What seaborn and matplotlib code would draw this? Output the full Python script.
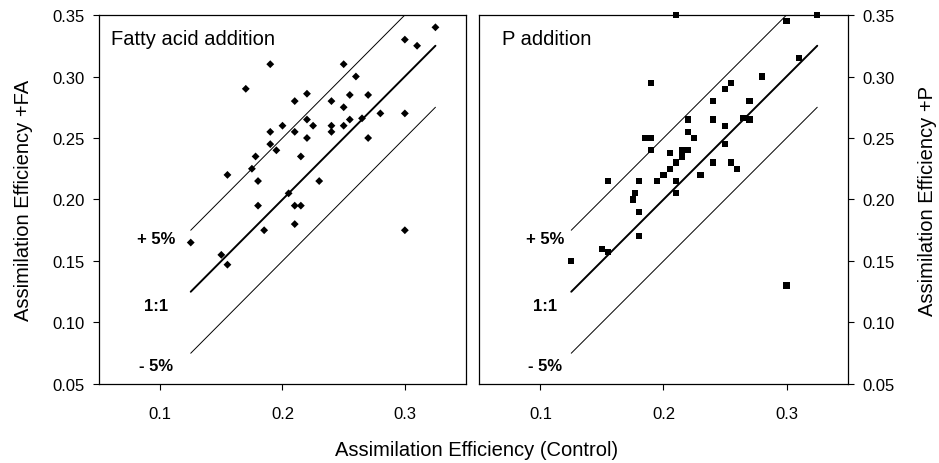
import seaborn as sns
import pandas as pd
import matplotlib.pyplot as plt

sns.set_style("ticks")
plt.rcParams['font.family'] = ['Liberation Sans', 'DejaVu Sans']
plt.rcParams['text.color'] = 'black'
plt.rcParams['xtick.color'] = 'black'
plt.rcParams['ytick.color'] = 'black'

# fatty acid addition (diamonds)
fa_control = [0.325, 0.30, 0.31, 0.19, 0.25, 0.17, 0.26, 0.21, 0.22, 0.24,
              0.255, 0.27, 0.25, 0.28, 0.30, 0.265, 0.255, 0.20, 0.22, 0.225,
              0.24, 0.25, 0.24, 0.19, 0.21, 0.22, 0.27, 0.19, 0.195, 0.178,
              0.215, 0.155, 0.175, 0.18, 0.23, 0.205, 0.18, 0.21, 0.215, 0.185,
              0.21, 0.30, 0.125, 0.15, 0.155]
fa_treat = [0.34, 0.33, 0.325, 0.31, 0.31, 0.29, 0.30, 0.28, 0.286, 0.28,
            0.285, 0.285, 0.275, 0.27, 0.27, 0.266, 0.265, 0.26, 0.265, 0.26,
            0.26, 0.26, 0.255, 0.255, 0.255, 0.25, 0.25, 0.245, 0.24, 0.235,
            0.235, 0.22, 0.225, 0.215, 0.215, 0.205, 0.195, 0.195, 0.195, 0.175,
            0.18, 0.175, 0.165, 0.155, 0.147]

# P addition (squares)
p_control = [0.21, 0.325, 0.30, 0.31, 0.19, 0.28, 0.25, 0.255, 0.24, 0.27,
             0.22, 0.24, 0.265, 0.27, 0.25, 0.22, 0.225, 0.185, 0.19, 0.25,
             0.19, 0.205, 0.215, 0.22, 0.215, 0.21, 0.24, 0.255, 0.205, 0.26,
             0.20, 0.23, 0.155, 0.18, 0.195, 0.21, 0.21, 0.177, 0.175, 0.18,
             0.18, 0.15, 0.155, 0.125, 0.30]
p_treat = [0.35, 0.35, 0.345, 0.315, 0.295, 0.30, 0.29, 0.295, 0.28, 0.28,
           0.265, 0.265, 0.266, 0.265, 0.26, 0.255, 0.25, 0.25, 0.25, 0.245,
           0.24, 0.238, 0.24, 0.24, 0.235, 0.23, 0.23, 0.23, 0.225, 0.225,
           0.22, 0.22, 0.215, 0.215, 0.215, 0.215, 0.205, 0.205, 0.20, 0.19,
           0.17, 0.16, 0.157, 0.15, 0.13]

ref_x = [0.125, 0.325]
ref_offsets = [0.05, 0.0, -0.05]
ref_widths = [0.7, 1.4, 0.7]
ref_labels = ['+ 5%', '1:1', '- 5%']
ref_label_y = [0.1685, 0.114, 0.065]

x_ticks = [0.1, 0.2, 0.3]
y_ticks = [0.05, 0.10, 0.15, 0.20, 0.25, 0.30, 0.35]

fig = plt.figure(figsize=(9.39, 4.64), dpi=100)
ax1 = fig.add_axes([0.1054, 0.1703, 0.3909, 0.7952])
ax2 = fig.add_axes([0.5101, 0.1703, 0.3930, 0.7952])

panels = [
    (ax1, fa_control, fa_treat, 'D', 16, 'Fatty acid addition', 0.032, 0.097),
    (ax2, p_control, p_treat, 's', 20, 'P addition', 0.063, 0.104),
]

for ax, xs, ys, mk, size, title, tx, lx in panels:
    df = pd.DataFrame({'control': xs, 'treat': ys})
    for off, lw in zip(ref_offsets, ref_widths):
        ax.plot(ref_x, [v + off for v in ref_x], color='black', lw=lw)
    sns.scatterplot(data=df, x='control', y='treat', marker=mk, s=size,
                    color='black', edgecolor='none', ax=ax, clip_on=False,
                    zorder=3)
    for lab, ly in zip(ref_labels, ref_label_y):
        ax.text(lx, ly, lab, ha='center', va='center', fontsize=12,
                fontweight='bold')
    ax.text(tx, 0.935, title, transform=ax.transAxes, ha='left',
            va='center', fontsize=14.5)
    ax.set_xlim(0.05, 0.35)
    ax.set_ylim(0.05, 0.35)
    ax.set_xticks(x_ticks)
    ax.set_xticklabels(['%.1f' % v for v in x_ticks], fontsize=12)
    ax.set_yticks(y_ticks)
    ax.set_yticklabels(['%.2f' % v for v in y_ticks], fontsize=12)
    ax.set_xlabel('')
    ax.set_ylabel('')
    ax.tick_params(direction='out', length=4, width=0.8, color='black', pad=6)
    for sp in ax.spines.values():
        sp.set_linewidth(0.9)
        sp.set_color('black')

ax1.tick_params(axis='x', pad=12)
ax2.tick_params(axis='x', pad=12)
ax2.yaxis.tick_right()
ax2.tick_params(axis='y', left=False, labelleft=False, right=True,
                labelright=True)

fig.text(0.0245, 0.5675, 'Assimilation Efficiency +FA', rotation=90,
         ha='center', va='center', fontsize=14.5)
fig.text(0.988, 0.5675, 'Assimilation Efficiency +P', rotation=90,
         ha='center', va='center', fontsize=14.5)
fig.text(0.508, 0.03, 'Assimilation Efficiency (Control)', ha='center',
         va='center', fontsize=14.5)

fig.savefig('out.png', dpi=100)
